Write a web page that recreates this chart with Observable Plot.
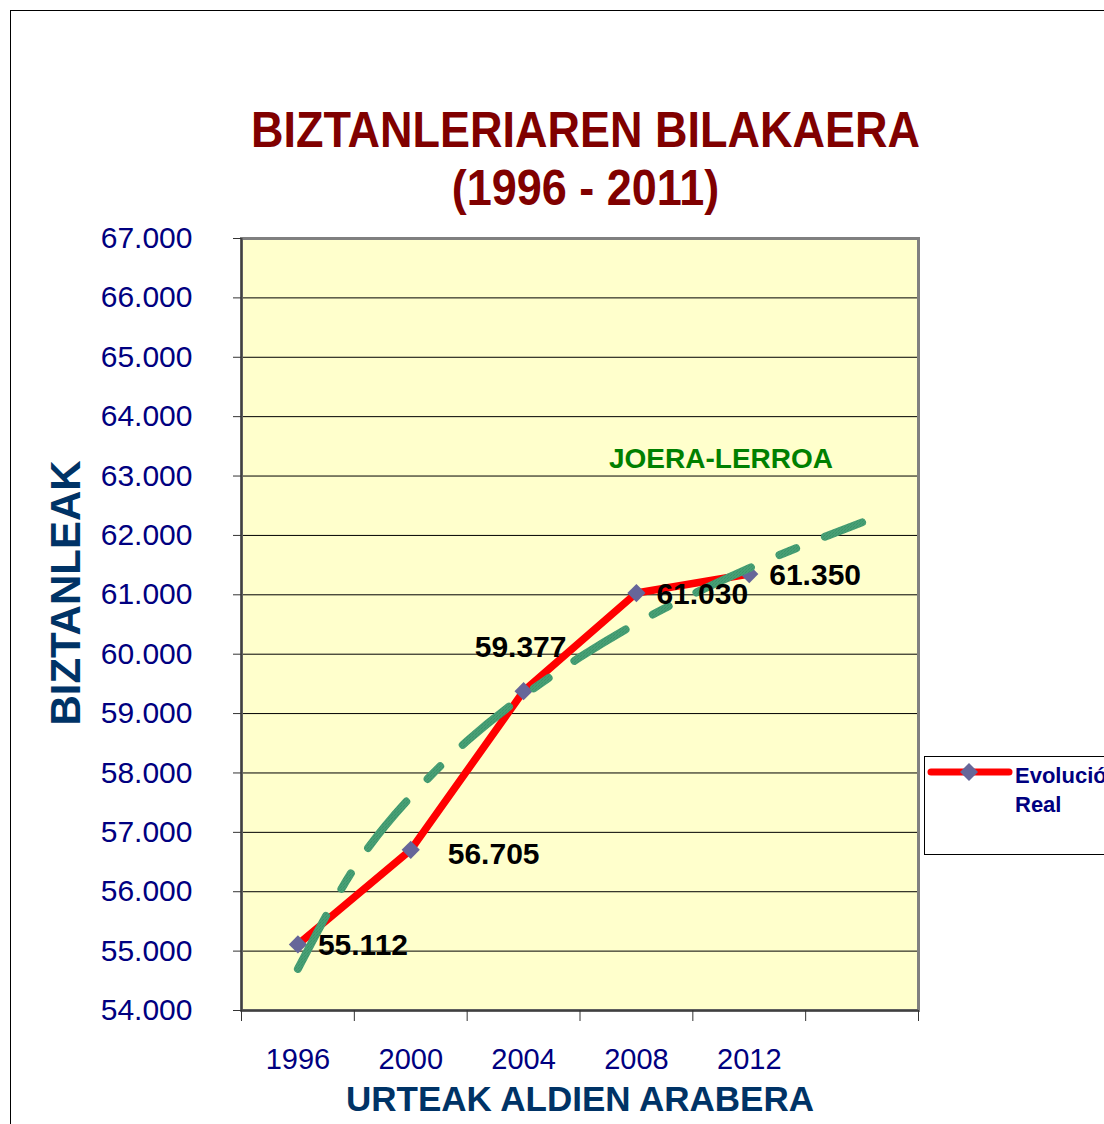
<!DOCTYPE html>
<html>
<head>
<meta charset="utf-8">
<script src="https://cdn.jsdelivr.net/npm/d3@7"></script>
<script src="https://cdn.jsdelivr.net/npm/@observablehq/plot@0.6"></script>
<style>
  html, body { margin: 0; padding: 0; background: #fff; }
  #wrap { position: relative; width: 1104px; height: 1124px; overflow: hidden; font-family: "Liberation Sans", Arial, sans-serif; }
  #outer { position: absolute; left: 10px; top: 10px; width: 1300px; height: 1300px; border: 1px solid #000; box-sizing: border-box; }
  #chart { position: absolute; left: 0; top: 0; }
  .title { position: absolute; left: 0; width: 1171px; text-align: center; color: #800000; font-weight: bold; font-size: 45px; line-height: 1; transform: scaleY(1.12); }
  #trendLabel { position: absolute; left: 609px; top: 445px; color: #008000; font-weight: bold; font-size: 28px; line-height: 1; }
  #yTitle { position: absolute; left: -134px; top: 568px; width: 400px; height: 50px; line-height: 50px; text-align: center; transform: rotate(-90deg); color: #003366; font-weight: bold; font-size: 42px; }
  #legend { position: absolute; left: 924px; top: 756px; width: 300px; height: 99px; border: 1px solid #000; background: #fff; box-sizing: border-box; }
  #legend svg { position: absolute; left: 0; top: 0; }
  #legendText { position: absolute; left: 90px; top: 4px; width: 112px; color: #000080; font-weight: bold; font-size: 22px; line-height: 29px; }
</style>
</head>
<body>
<div id="wrap">
  <div id="outer"></div>
  <div id="chart"></div>
  <div class="title" id="title1" style="top:107px">BIZTANLERIAREN BILAKAERA</div>
  <div class="title" id="title2" style="top:165px">(1996 - 2011)</div>
  <div id="yTitle">BIZTANLEAK</div>
  <div id="trendLabel">JOERA-LERROA</div>
  <div id="legend">
    <svg width="100" height="40">
      <line x1="6" y1="15" x2="84" y2="15" stroke="#ff0000" stroke-width="7" stroke-linecap="round"></line>
      <path d="M44,6 L53,15 L44,24 L35,15 Z" fill="#666699"></path>
    </svg>
    <div id="legendText">Evolución Real</div>
  </div>
</div>
<script>
// ---- data ----
const years = ["1996", "2000", "2004", "2008", "2012"];
const population = [55112, 56705, 59377, 61030, 61350];
const yTicks = [54000, 55000, 56000, 57000, 58000, 59000, 60000, 61000, 62000, 63000, 64000, 65000, 66000, 67000];
const gridLines = [55000, 56000, 57000, 58000, 59000, 60000, 61000, 62000, 63000, 64000, 65000, 66000];
const bandEdges = [0.5, 1.5, 2.5, 3.5, 4.5, 5.5, 6.5];
const labelPositions = [1, 2, 3, 4, 5];
// trend line (JOERA-LERROA) values
const trendX = [1, 1.5, 2, 2.5, 3, 3.5, 4, 4.5, 5, 5.5, 6];
const trendY = [54700, 56400, 57600, 58540, 59300, 59950, 60520, 61010, 61450, 61850, 62220];

const data = years.map((year, k) => ({idx: k + 1, year, pop: population[k]}));
const trend = trendX.map((x, k) => ({x, y: trendY[k]}));

const loc = d3.formatLocale({decimal: ",", thousands: ".", grouping: [3], currency: ["", "€"]});
const fmt = loc.format(",d");

const labelStyle = {fontSize: 30, fontWeight: "bold", fill: "#000", text: d => fmt(d.pop)};

const chart = Plot.plot({
  width: 1104,
  height: 1124,
  marginLeft: 241,
  marginRight: 186,
  marginTop: 238,
  marginBottom: 114,
  style: {fontFamily: "'Liberation Sans', Arial, sans-serif", background: "transparent"},
  x: {type: "linear", domain: [0.5, 6.5], axis: null},
  y: {domain: [54000, 67000], axis: null},
  marks: [
    Plot.frame({fill: "#ffffcc", stroke: null}),
    Plot.ruleY(gridLines, {stroke: "#000", strokeWidth: 1}),
    Plot.frame({stroke: "#808080", strokeWidth: 3}),
    Plot.ruleX([0.5], {stroke: "#404040", strokeWidth: 2}),
    Plot.ruleY([54000], {stroke: "#404040", strokeWidth: 2}),
    Plot.axisY({ticks: yTicks, tickSize: 8, tickPadding: 41, tickFormat: fmt, fontSize: 30, stroke: "#333", fill: "#000080"}),
    Plot.axisX({ticks: bandEdges, tickSize: 11, tickFormat: () => "", stroke: "#333"}),
    Plot.axisX({ticks: labelPositions, tickSize: 0, tickPadding: 38, tickFormat: i => years[i - 1], fontSize: 29, fill: "#000080"}),
    Plot.axisX({ticks: [], label: "URTEAK ALDIEN ARABERA", labelAnchor: "center", labelArrow: "none", labelOffset: 100, fontSize: 35, fontWeight: "bold", fill: "#003366", tickSize: 0}),
    Plot.line(data, {x: "idx", y: "pop", stroke: "#ff0000", strokeWidth: 7.5, strokeLinejoin: "round"}),
    Plot.dot(data, {x: "idx", y: "pop", symbol: "diamond2", r: 8.2, fill: "#666699", stroke: null}),
    Plot.line(trend, {x: "x", y: "y", curve: "natural", stroke: "url(#hatch)", strokeWidth: 8, strokeDasharray: "60,31,18,31"}),
    Plot.text(data, {...labelStyle, x: "idx", y: "pop", filter: d => d.idx === 1 || d.idx === 4 || d.idx === 5, textAnchor: "start", dx: 20, dy: 1}),
    Plot.text(data, {...labelStyle, x: "idx", y: "pop", filter: d => d.idx === 2, textAnchor: "start", dx: 37, dy: 5}),
    Plot.text(data, {...labelStyle, x: "idx", y: "pop", filter: d => d.idx === 3, textAnchor: "middle", dx: -3, dy: -44})
  ]
});

// hatched texture for the trend line
const ns = "http://www.w3.org/2000/svg";
const defs = document.createElementNS(ns, "defs");
const pat = document.createElementNS(ns, "pattern");
pat.setAttribute("id", "hatch");
pat.setAttribute("patternUnits", "userSpaceOnUse");
pat.setAttribute("width", "3");
pat.setAttribute("height", "3");
const bg = document.createElementNS(ns, "rect");
bg.setAttribute("width", "3"); bg.setAttribute("height", "3"); bg.setAttribute("fill", "#5fae86");
const ln = document.createElementNS(ns, "path");
ln.setAttribute("d", "M0,3 L3,0"); ln.setAttribute("stroke", "#24875a"); ln.setAttribute("stroke-width", "1.2");
pat.appendChild(bg); pat.appendChild(ln); defs.appendChild(pat);
chart.insertBefore(defs, chart.firstChild);

document.getElementById("chart").appendChild(chart);
</script>
</body>
</html>
